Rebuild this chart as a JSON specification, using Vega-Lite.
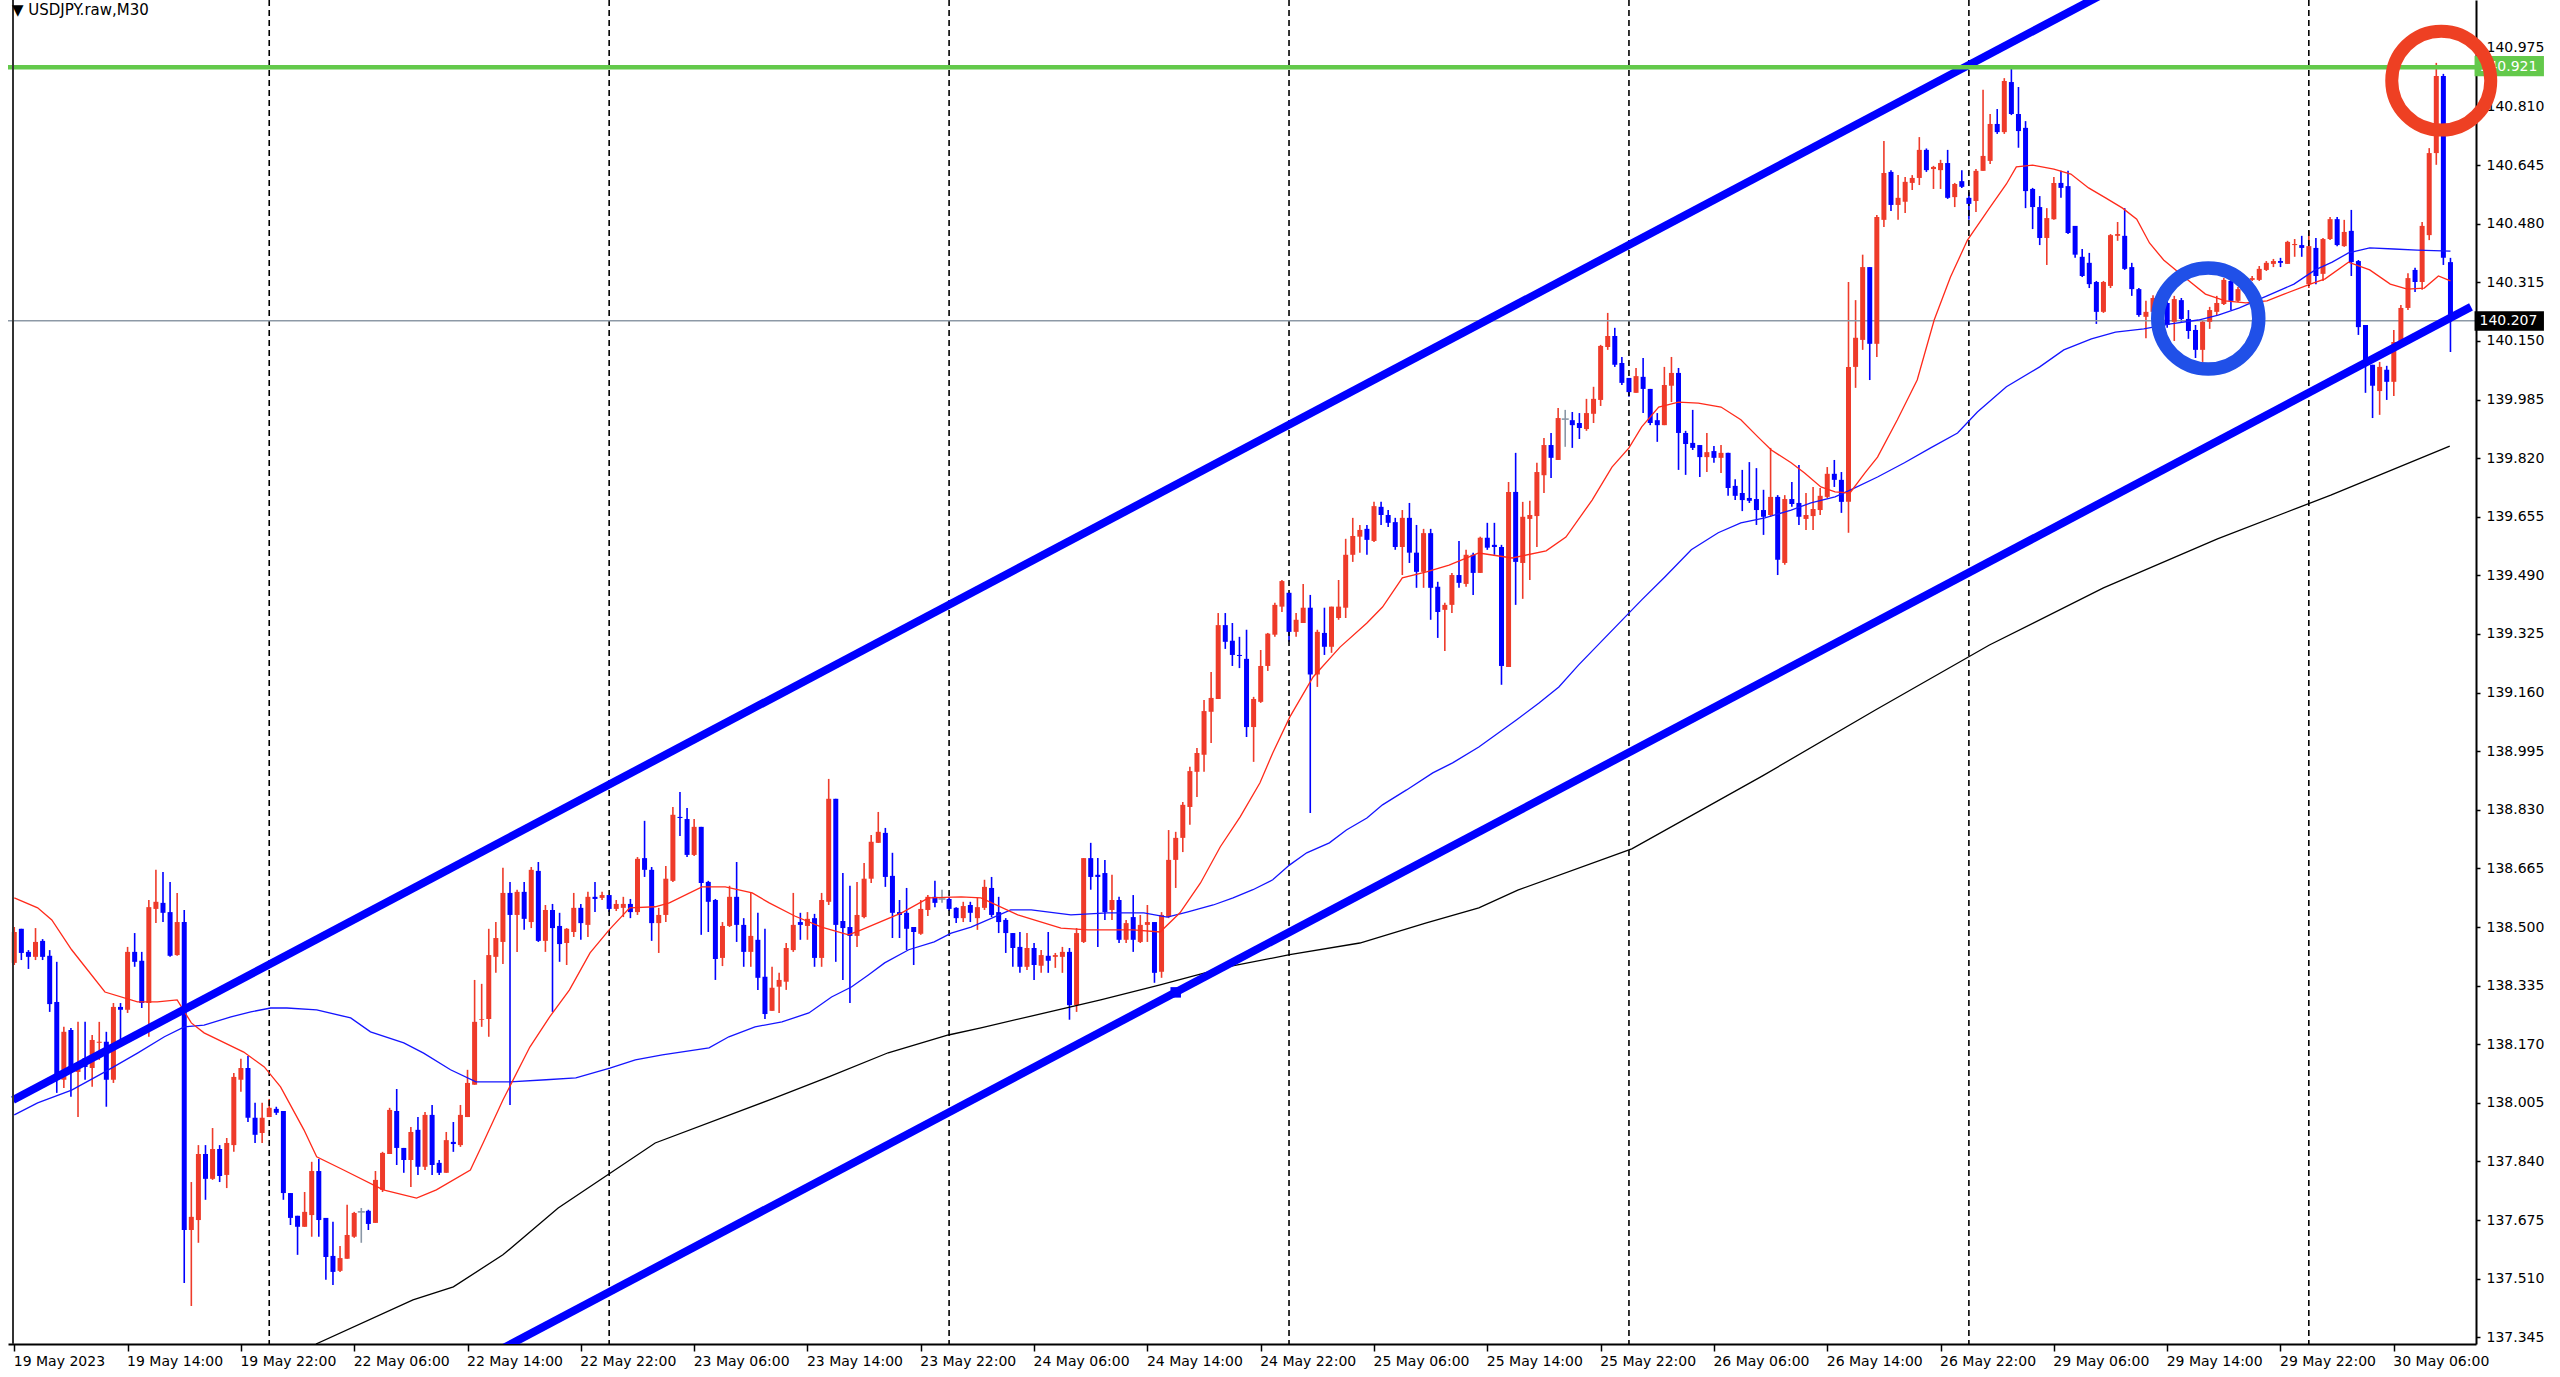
{
  "$schema": "https://vega.github.io/schema/vega-lite/v6.json",
  "width": 2468,
  "height": 1344,
  "autosize": "none",
  "padding": {"left": 8, "top": 0, "right": 84, "bottom": 33},
  "background": "white",
  "title": {
    "text": "▼ USDJPY.raw,M30",
    "anchor": "start",
    "frame": "group",
    "orient": "top",
    "offset": -18,
    "dy": 13,
    "baseline": "alphabetic",
    "dx": 4,
    "font": "DejaVu Sans",
    "fontSize": 15,
    "fontWeight": "normal",
    "color": "#000000"
  },
  "config": {
    "view": {"stroke": null},
    "axis": {"labelFont": "DejaVu Sans", "labelFontSize": 14, "labelColor": "#000000", "grid": false, "title": null}
  },
  "datasets": {
    "candles": [
      {"i":0,"o":138.399,"h":138.500,"l":138.393,"c":138.486},
      {"i":1,"o":138.495,"h":138.495,"l":138.407,"c":138.427},
      {"i":2,"o":138.430,"h":138.435,"l":138.382,"c":138.416},
      {"i":3,"o":138.416,"h":138.497,"l":138.407,"c":138.458},
      {"i":4,"o":138.461,"h":138.466,"l":138.407,"c":138.416},
      {"i":5,"o":138.419,"h":138.435,"l":138.261,"c":138.283},
      {"i":6,"o":138.289,"h":138.402,"l":138.033,"c":138.070},
      {"i":7,"o":138.070,"h":138.219,"l":138.047,"c":138.205},
      {"i":8,"o":138.210,"h":138.216,"l":138.022,"c":138.098},
      {"i":9,"o":138.092,"h":138.233,"l":137.965,"c":138.109},
      {"i":10,"o":138.131,"h":138.233,"l":138.070,"c":138.106},
      {"i":11,"o":138.103,"h":138.196,"l":138.050,"c":138.182},
      {"i":12,"o":138.174,"h":138.233,"l":138.126,"c":138.177},
      {"i":13,"o":138.177,"h":138.205,"l":137.994,"c":138.070},
      {"i":14,"o":138.070,"h":138.286,"l":138.061,"c":138.275},
      {"i":15,"o":138.275,"h":138.286,"l":138.182,"c":138.267},
      {"i":16,"o":138.267,"h":138.444,"l":138.258,"c":138.430},
      {"i":17,"o":138.430,"h":138.483,"l":138.388,"c":138.402},
      {"i":18,"o":138.405,"h":138.430,"l":138.272,"c":138.286},
      {"i":19,"o":138.286,"h":138.576,"l":138.191,"c":138.556},
      {"i":20,"o":138.551,"h":138.661,"l":138.511,"c":138.571},
      {"i":21,"o":138.568,"h":138.655,"l":138.514,"c":138.540},
      {"i":22,"o":138.542,"h":138.627,"l":138.416,"c":138.419},
      {"i":23,"o":138.421,"h":138.596,"l":138.419,"c":138.514},
      {"i":24,"o":138.514,"h":138.548,"l":137.498,"c":137.647},
      {"i":25,"o":137.647,"h":137.782,"l":137.433,"c":137.684},
      {"i":26,"o":137.675,"h":137.886,"l":137.611,"c":137.861},
      {"i":27,"o":137.861,"h":137.886,"l":137.732,"c":137.791},
      {"i":28,"o":137.791,"h":137.934,"l":137.788,"c":137.875},
      {"i":29,"o":137.875,"h":137.886,"l":137.782,"c":137.799},
      {"i":30,"o":137.802,"h":137.906,"l":137.765,"c":137.892},
      {"i":31,"o":137.886,"h":138.089,"l":137.867,"c":138.078},
      {"i":32,"o":138.070,"h":138.129,"l":138.036,"c":138.103},
      {"i":33,"o":138.103,"h":138.137,"l":137.951,"c":137.963},
      {"i":34,"o":137.963,"h":138.005,"l":137.892,"c":137.915},
      {"i":35,"o":137.920,"h":138.005,"l":137.892,"c":137.963},
      {"i":36,"o":137.965,"h":138.016,"l":137.965,"c":137.991},
      {"i":37,"o":137.988,"h":137.994,"l":137.971,"c":137.977},
      {"i":38,"o":137.982,"h":137.982,"l":137.732,"c":137.751},
      {"i":39,"o":137.751,"h":137.751,"l":137.661,"c":137.681},
      {"i":40,"o":137.687,"h":137.687,"l":137.577,"c":137.656},
      {"i":41,"o":137.656,"h":137.754,"l":137.656,"c":137.698},
      {"i":42,"o":137.689,"h":137.839,"l":137.628,"c":137.813},
      {"i":43,"o":137.813,"h":137.847,"l":137.628,"c":137.675},
      {"i":44,"o":137.681,"h":137.681,"l":137.507,"c":137.571},
      {"i":45,"o":137.574,"h":137.670,"l":137.492,"c":137.529},
      {"i":46,"o":137.532,"h":137.602,"l":137.529,"c":137.568},
      {"i":47,"o":137.566,"h":137.718,"l":137.566,"c":137.633},
      {"i":48,"o":137.628,"h":137.698,"l":137.625,"c":137.695},
      {"i":49,"o":137.698,"h":137.709,"l":137.611,"c":137.698},
      {"i":50,"o":137.701,"h":137.704,"l":137.647,"c":137.664},
      {"i":51,"o":137.667,"h":137.813,"l":137.667,"c":137.788},
      {"i":52,"o":137.760,"h":137.867,"l":137.754,"c":137.864},
      {"i":53,"o":137.861,"h":137.991,"l":137.861,"c":137.985},
      {"i":54,"o":137.982,"h":138.044,"l":137.830,"c":137.878},
      {"i":55,"o":137.878,"h":137.878,"l":137.808,"c":137.844},
      {"i":56,"o":137.844,"h":137.937,"l":137.768,"c":137.923},
      {"i":57,"o":137.929,"h":137.965,"l":137.802,"c":137.825},
      {"i":58,"o":137.825,"h":137.979,"l":137.816,"c":137.971},
      {"i":59,"o":137.971,"h":137.999,"l":137.802,"c":137.830},
      {"i":60,"o":137.836,"h":137.844,"l":137.802,"c":137.808},
      {"i":61,"o":137.808,"h":137.923,"l":137.808,"c":137.900},
      {"i":62,"o":137.895,"h":137.951,"l":137.867,"c":137.889},
      {"i":63,"o":137.886,"h":137.999,"l":137.881,"c":137.971},
      {"i":64,"o":137.965,"h":138.098,"l":137.965,"c":138.061},
      {"i":65,"o":138.056,"h":138.351,"l":138.056,"c":138.233},
      {"i":66,"o":138.239,"h":138.340,"l":138.219,"c":138.241},
      {"i":67,"o":138.241,"h":138.495,"l":138.191,"c":138.421},
      {"i":68,"o":138.416,"h":138.514,"l":138.371,"c":138.469},
      {"i":69,"o":138.458,"h":138.667,"l":138.396,"c":138.596},
      {"i":70,"o":138.596,"h":138.627,"l":137.999,"c":138.534},
      {"i":71,"o":138.534,"h":138.605,"l":138.430,"c":138.599},
      {"i":72,"o":138.599,"h":138.627,"l":138.492,"c":138.523},
      {"i":73,"o":138.514,"h":138.669,"l":138.497,"c":138.661},
      {"i":74,"o":138.658,"h":138.683,"l":138.458,"c":138.461},
      {"i":75,"o":138.461,"h":138.562,"l":138.430,"c":138.548},
      {"i":76,"o":138.548,"h":138.565,"l":138.261,"c":138.497},
      {"i":77,"o":138.503,"h":138.540,"l":138.402,"c":138.452},
      {"i":78,"o":138.455,"h":138.497,"l":138.393,"c":138.495},
      {"i":79,"o":138.486,"h":138.596,"l":138.472,"c":138.554},
      {"i":80,"o":138.554,"h":138.565,"l":138.464,"c":138.511},
      {"i":81,"o":138.506,"h":138.599,"l":138.472,"c":138.585},
      {"i":82,"o":138.585,"h":138.627,"l":138.542,"c":138.579},
      {"i":83,"o":138.582,"h":138.599,"l":138.576,"c":138.590},
      {"i":84,"o":138.590,"h":138.590,"l":138.542,"c":138.551},
      {"i":85,"o":138.551,"h":138.576,"l":138.545,"c":138.565},
      {"i":86,"o":138.554,"h":138.585,"l":138.528,"c":138.565},
      {"i":87,"o":138.565,"h":138.579,"l":138.525,"c":138.542},
      {"i":88,"o":138.542,"h":138.697,"l":138.534,"c":138.692},
      {"i":89,"o":138.694,"h":138.799,"l":138.641,"c":138.661},
      {"i":90,"o":138.661,"h":138.669,"l":138.461,"c":138.511},
      {"i":91,"o":138.511,"h":138.554,"l":138.427,"c":138.534},
      {"i":92,"o":138.534,"h":138.672,"l":138.514,"c":138.636},
      {"i":93,"o":138.630,"h":138.838,"l":138.627,"c":138.816},
      {"i":94,"o":138.810,"h":138.880,"l":138.756,"c":138.807},
      {"i":95,"o":138.804,"h":138.835,"l":138.697,"c":138.703},
      {"i":96,"o":138.703,"h":138.804,"l":138.700,"c":138.782},
      {"i":97,"o":138.782,"h":138.782,"l":138.478,"c":138.624},
      {"i":98,"o":138.627,"h":138.630,"l":138.486,"c":138.571},
      {"i":99,"o":138.576,"h":138.579,"l":138.351,"c":138.410},
      {"i":100,"o":138.413,"h":138.514,"l":138.390,"c":138.503},
      {"i":101,"o":138.503,"h":138.616,"l":138.500,"c":138.585},
      {"i":102,"o":138.585,"h":138.683,"l":138.458,"c":138.506},
      {"i":103,"o":138.506,"h":138.525,"l":138.388,"c":138.430},
      {"i":104,"o":138.430,"h":138.596,"l":138.388,"c":138.475},
      {"i":105,"o":138.464,"h":138.540,"l":138.323,"c":138.357},
      {"i":106,"o":138.360,"h":138.495,"l":138.241,"c":138.255},
      {"i":107,"o":138.264,"h":138.388,"l":138.264,"c":138.329},
      {"i":108,"o":138.332,"h":138.371,"l":138.258,"c":138.351},
      {"i":109,"o":138.346,"h":138.455,"l":138.323,"c":138.441},
      {"i":110,"o":138.435,"h":138.596,"l":138.430,"c":138.506},
      {"i":111,"o":138.514,"h":138.540,"l":138.464,"c":138.506},
      {"i":112,"o":138.503,"h":138.542,"l":138.464,"c":138.523},
      {"i":113,"o":138.525,"h":138.537,"l":138.388,"c":138.413},
      {"i":114,"o":138.413,"h":138.596,"l":138.388,"c":138.576},
      {"i":115,"o":138.571,"h":138.917,"l":138.562,"c":138.861},
      {"i":116,"o":138.861,"h":138.861,"l":138.402,"c":138.506},
      {"i":117,"o":138.517,"h":138.652,"l":138.351,"c":138.497},
      {"i":118,"o":138.500,"h":138.616,"l":138.286,"c":138.475},
      {"i":119,"o":138.475,"h":138.627,"l":138.444,"c":138.534},
      {"i":120,"o":138.528,"h":138.680,"l":138.525,"c":138.636},
      {"i":121,"o":138.636,"h":138.759,"l":138.624,"c":138.740},
      {"i":122,"o":138.737,"h":138.824,"l":138.737,"c":138.768},
      {"i":123,"o":138.765,"h":138.779,"l":138.613,"c":138.641},
      {"i":124,"o":138.644,"h":138.709,"l":138.469,"c":138.540},
      {"i":125,"o":138.542,"h":138.576,"l":138.469,"c":138.534},
      {"i":126,"o":138.540,"h":138.610,"l":138.435,"c":138.495},
      {"i":127,"o":138.500,"h":138.500,"l":138.393,"c":138.486},
      {"i":128,"o":138.481,"h":138.576,"l":138.478,"c":138.551},
      {"i":129,"o":138.548,"h":138.590,"l":138.531,"c":138.585},
      {"i":130,"o":138.585,"h":138.630,"l":138.556,"c":138.568},
      {"i":131,"o":138.579,"h":138.605,"l":138.568,"c":138.579},
      {"i":132,"o":138.579,"h":138.585,"l":138.545,"c":138.551},
      {"i":133,"o":138.554,"h":138.556,"l":138.511,"c":138.525},
      {"i":134,"o":138.525,"h":138.571,"l":138.514,"c":138.559},
      {"i":135,"o":138.562,"h":138.571,"l":138.514,"c":138.540},
      {"i":136,"o":138.525,"h":138.582,"l":138.492,"c":138.556},
      {"i":137,"o":138.554,"h":138.633,"l":138.548,"c":138.613},
      {"i":138,"o":138.610,"h":138.641,"l":138.528,"c":138.534},
      {"i":139,"o":138.542,"h":138.585,"l":138.483,"c":138.514},
      {"i":140,"o":138.520,"h":138.525,"l":138.427,"c":138.483},
      {"i":141,"o":138.483,"h":138.483,"l":138.388,"c":138.441},
      {"i":142,"o":138.444,"h":138.486,"l":138.371,"c":138.388},
      {"i":143,"o":138.388,"h":138.483,"l":138.379,"c":138.441},
      {"i":144,"o":138.441,"h":138.455,"l":138.351,"c":138.393},
      {"i":145,"o":138.391,"h":138.435,"l":138.371,"c":138.421},
      {"i":146,"o":138.419,"h":138.486,"l":138.371,"c":138.405},
      {"i":147,"o":138.416,"h":138.427,"l":138.385,"c":138.421},
      {"i":148,"o":138.416,"h":138.444,"l":138.371,"c":138.430},
      {"i":149,"o":138.430,"h":138.441,"l":138.239,"c":138.280},
      {"i":150,"o":138.280,"h":138.497,"l":138.261,"c":138.483},
      {"i":151,"o":138.458,"h":138.694,"l":138.455,"c":138.694},
      {"i":152,"o":138.694,"h":138.737,"l":138.605,"c":138.641},
      {"i":153,"o":138.647,"h":138.694,"l":138.444,"c":138.641},
      {"i":154,"o":138.652,"h":138.689,"l":138.520,"c":138.542},
      {"i":155,"o":138.548,"h":138.647,"l":138.520,"c":138.576},
      {"i":156,"o":138.576,"h":138.585,"l":138.455,"c":138.464},
      {"i":157,"o":138.464,"h":138.520,"l":138.455,"c":138.511},
      {"i":158,"o":138.528,"h":138.590,"l":138.430,"c":138.464},
      {"i":159,"o":138.458,"h":138.534,"l":138.455,"c":138.506},
      {"i":160,"o":138.506,"h":138.562,"l":138.458,"c":138.514},
      {"i":161,"o":138.514,"h":138.514,"l":138.343,"c":138.371},
      {"i":162,"o":138.374,"h":138.542,"l":138.357,"c":138.534},
      {"i":163,"o":138.528,"h":138.773,"l":138.525,"c":138.689},
      {"i":164,"o":138.689,"h":138.768,"l":138.610,"c":138.751},
      {"i":165,"o":138.751,"h":138.852,"l":138.711,"c":138.844},
      {"i":166,"o":138.838,"h":138.951,"l":138.788,"c":138.939},
      {"i":167,"o":138.937,"h":139.004,"l":138.866,"c":138.990},
      {"i":168,"o":138.985,"h":139.139,"l":138.937,"c":139.108},
      {"i":169,"o":139.106,"h":139.218,"l":139.018,"c":139.145},
      {"i":170,"o":139.142,"h":139.384,"l":139.142,"c":139.350},
      {"i":171,"o":139.350,"h":139.384,"l":139.283,"c":139.303},
      {"i":172,"o":139.306,"h":139.356,"l":139.235,"c":139.266},
      {"i":173,"o":139.266,"h":139.317,"l":139.229,"c":139.263},
      {"i":174,"o":139.255,"h":139.337,"l":139.035,"c":139.063},
      {"i":175,"o":139.063,"h":139.148,"l":138.965,"c":139.142},
      {"i":176,"o":139.134,"h":139.280,"l":139.131,"c":139.235},
      {"i":177,"o":139.235,"h":139.328,"l":139.221,"c":139.326},
      {"i":178,"o":139.323,"h":139.413,"l":139.317,"c":139.407},
      {"i":179,"o":139.402,"h":139.477,"l":139.387,"c":139.474},
      {"i":180,"o":139.441,"h":139.441,"l":139.303,"c":139.331},
      {"i":181,"o":139.331,"h":139.384,"l":139.317,"c":139.365},
      {"i":182,"o":139.356,"h":139.466,"l":139.356,"c":139.399},
      {"i":183,"o":139.399,"h":139.435,"l":138.821,"c":139.211},
      {"i":184,"o":139.211,"h":139.337,"l":139.176,"c":139.331},
      {"i":185,"o":139.328,"h":139.399,"l":139.266,"c":139.289},
      {"i":186,"o":139.289,"h":139.402,"l":139.272,"c":139.402},
      {"i":187,"o":139.370,"h":139.477,"l":139.365,"c":139.402},
      {"i":188,"o":139.399,"h":139.593,"l":139.370,"c":139.548},
      {"i":189,"o":139.548,"h":139.652,"l":139.528,"c":139.601},
      {"i":190,"o":139.599,"h":139.632,"l":139.554,"c":139.618},
      {"i":191,"o":139.621,"h":139.632,"l":139.548,"c":139.590},
      {"i":192,"o":139.587,"h":139.697,"l":139.584,"c":139.685},
      {"i":193,"o":139.683,"h":139.697,"l":139.632,"c":139.660},
      {"i":194,"o":139.660,"h":139.674,"l":139.626,"c":139.638},
      {"i":195,"o":139.640,"h":139.652,"l":139.562,"c":139.570},
      {"i":196,"o":139.570,"h":139.674,"l":139.491,"c":139.652},
      {"i":197,"o":139.652,"h":139.694,"l":139.525,"c":139.554},
      {"i":198,"o":139.554,"h":139.632,"l":139.455,"c":139.500},
      {"i":199,"o":139.500,"h":139.621,"l":139.455,"c":139.609},
      {"i":200,"o":139.609,"h":139.621,"l":139.365,"c":139.455},
      {"i":201,"o":139.458,"h":139.472,"l":139.314,"c":139.387},
      {"i":202,"o":139.393,"h":139.413,"l":139.277,"c":139.407},
      {"i":203,"o":139.407,"h":139.497,"l":139.384,"c":139.491},
      {"i":204,"o":139.491,"h":139.587,"l":139.455,"c":139.469},
      {"i":205,"o":139.466,"h":139.562,"l":139.458,"c":139.548},
      {"i":206,"o":139.548,"h":139.554,"l":139.435,"c":139.497},
      {"i":207,"o":139.497,"h":139.599,"l":139.497,"c":139.596},
      {"i":208,"o":139.596,"h":139.638,"l":139.562,"c":139.568},
      {"i":209,"o":139.576,"h":139.638,"l":139.548,"c":139.570},
      {"i":210,"o":139.570,"h":139.576,"l":139.182,"c":139.235},
      {"i":211,"o":139.232,"h":139.753,"l":139.232,"c":139.725},
      {"i":212,"o":139.725,"h":139.835,"l":139.407,"c":139.528},
      {"i":213,"o":139.525,"h":139.697,"l":139.424,"c":139.655},
      {"i":214,"o":139.649,"h":139.700,"l":139.477,"c":139.660},
      {"i":215,"o":139.657,"h":139.807,"l":139.570,"c":139.781},
      {"i":216,"o":139.772,"h":139.877,"l":139.722,"c":139.857},
      {"i":217,"o":139.857,"h":139.891,"l":139.764,"c":139.821},
      {"i":218,"o":139.815,"h":139.961,"l":139.815,"c":139.933},
      {"i":219,"o":139.930,"h":139.956,"l":139.852,"c":139.930},
      {"i":220,"o":139.927,"h":139.950,"l":139.849,"c":139.913},
      {"i":221,"o":139.919,"h":139.947,"l":139.874,"c":139.905},
      {"i":222,"o":139.902,"h":139.987,"l":139.897,"c":139.947},
      {"i":223,"o":139.945,"h":140.021,"l":139.919,"c":139.987},
      {"i":224,"o":139.984,"h":140.139,"l":139.967,"c":140.136},
      {"i":225,"o":140.133,"h":140.229,"l":140.125,"c":140.164},
      {"i":226,"o":140.164,"h":140.187,"l":140.077,"c":140.083},
      {"i":227,"o":140.088,"h":140.105,"l":140.026,"c":140.032},
      {"i":228,"o":140.046,"h":140.046,"l":139.993,"c":140.006},
      {"i":229,"o":140.004,"h":140.074,"l":140.004,"c":140.051},
      {"i":230,"o":140.049,"h":140.102,"l":139.947,"c":140.015},
      {"i":231,"o":140.015,"h":140.015,"l":139.913,"c":139.919},
      {"i":232,"o":139.927,"h":139.947,"l":139.866,"c":139.913},
      {"i":233,"o":139.913,"h":140.077,"l":139.913,"c":140.026},
      {"i":234,"o":140.024,"h":140.105,"l":139.978,"c":140.060},
      {"i":235,"o":140.060,"h":140.074,"l":139.787,"c":139.891},
      {"i":236,"o":139.891,"h":139.897,"l":139.773,"c":139.860},
      {"i":237,"o":139.863,"h":139.956,"l":139.843,"c":139.849},
      {"i":238,"o":139.857,"h":139.857,"l":139.767,"c":139.823},
      {"i":239,"o":139.823,"h":139.891,"l":139.781,"c":139.837},
      {"i":240,"o":139.840,"h":139.854,"l":139.807,"c":139.821},
      {"i":241,"o":139.821,"h":139.857,"l":139.778,"c":139.835},
      {"i":242,"o":139.835,"h":139.835,"l":139.714,"c":139.736},
      {"i":243,"o":139.742,"h":139.761,"l":139.702,"c":139.714},
      {"i":244,"o":139.722,"h":139.787,"l":139.671,"c":139.702},
      {"i":245,"o":139.708,"h":139.809,"l":139.694,"c":139.700},
      {"i":246,"o":139.705,"h":139.792,"l":139.632,"c":139.674},
      {"i":247,"o":139.674,"h":139.731,"l":139.604,"c":139.655},
      {"i":248,"o":139.660,"h":139.849,"l":139.655,"c":139.711},
      {"i":249,"o":139.711,"h":139.716,"l":139.491,"c":139.534},
      {"i":250,"o":139.525,"h":139.716,"l":139.520,"c":139.705},
      {"i":251,"o":139.705,"h":139.753,"l":139.683,"c":139.691},
      {"i":252,"o":139.694,"h":139.801,"l":139.632,"c":139.655},
      {"i":253,"o":139.649,"h":139.722,"l":139.618,"c":139.660},
      {"i":254,"o":139.657,"h":139.739,"l":139.618,"c":139.677},
      {"i":255,"o":139.674,"h":139.736,"l":139.660,"c":139.714},
      {"i":256,"o":139.711,"h":139.795,"l":139.708,"c":139.776},
      {"i":257,"o":139.776,"h":139.815,"l":139.739,"c":139.759},
      {"i":258,"o":139.759,"h":139.781,"l":139.666,"c":139.697},
      {"i":259,"o":139.697,"h":140.316,"l":139.610,"c":140.077},
      {"i":260,"o":140.077,"h":140.265,"l":140.018,"c":140.159},
      {"i":261,"o":140.153,"h":140.393,"l":140.125,"c":140.358},
      {"i":262,"o":140.358,"h":140.358,"l":140.040,"c":140.142},
      {"i":263,"o":140.142,"h":140.505,"l":140.105,"c":140.499},
      {"i":264,"o":140.491,"h":140.713,"l":140.471,"c":140.623},
      {"i":265,"o":140.626,"h":140.631,"l":140.516,"c":140.533},
      {"i":266,"o":140.533,"h":140.617,"l":140.491,"c":140.553},
      {"i":267,"o":140.542,"h":140.612,"l":140.510,"c":140.598},
      {"i":268,"o":140.595,"h":140.617,"l":140.575,"c":140.609},
      {"i":269,"o":140.609,"h":140.724,"l":140.589,"c":140.688},
      {"i":270,"o":140.688,"h":140.692,"l":140.626,"c":140.631},
      {"i":271,"o":140.634,"h":140.643,"l":140.578,"c":140.640},
      {"i":272,"o":140.631,"h":140.660,"l":140.578,"c":140.651},
      {"i":273,"o":140.651,"h":140.688,"l":140.550,"c":140.553},
      {"i":274,"o":140.555,"h":140.595,"l":140.527,"c":140.592},
      {"i":275,"o":140.600,"h":140.631,"l":140.581,"c":140.584},
      {"i":276,"o":140.553,"h":140.569,"l":140.491,"c":140.536},
      {"i":277,"o":140.544,"h":140.634,"l":140.513,"c":140.629},
      {"i":278,"o":140.629,"h":140.857,"l":140.629,"c":140.671},
      {"i":279,"o":140.657,"h":140.789,"l":140.648,"c":140.761},
      {"i":280,"o":140.761,"h":140.803,"l":140.733,"c":140.738},
      {"i":281,"o":140.738,"h":140.890,"l":140.733,"c":140.882},
      {"i":282,"o":140.879,"h":140.921,"l":140.786,"c":140.789},
      {"i":283,"o":140.789,"h":140.865,"l":140.694,"c":140.741},
      {"i":284,"o":140.750,"h":140.769,"l":140.524,"c":140.572},
      {"i":285,"o":140.578,"h":140.581,"l":140.465,"c":140.527},
      {"i":286,"o":140.527,"h":140.558,"l":140.420,"c":140.440},
      {"i":287,"o":140.440,"h":140.524,"l":140.364,"c":140.496},
      {"i":288,"o":140.493,"h":140.612,"l":140.491,"c":140.595},
      {"i":289,"o":140.595,"h":140.629,"l":140.553,"c":140.581},
      {"i":290,"o":140.586,"h":140.629,"l":140.451,"c":140.454},
      {"i":291,"o":140.474,"h":140.474,"l":140.384,"c":140.393},
      {"i":292,"o":140.387,"h":140.409,"l":140.330,"c":140.333},
      {"i":293,"o":140.370,"h":140.398,"l":140.299,"c":140.310},
      {"i":294,"o":140.316,"h":140.319,"l":140.198,"c":140.232},
      {"i":295,"o":140.232,"h":140.319,"l":140.229,"c":140.316},
      {"i":296,"o":140.305,"h":140.451,"l":140.299,"c":140.448},
      {"i":297,"o":140.446,"h":140.485,"l":140.432,"c":140.451},
      {"i":298,"o":140.446,"h":140.524,"l":140.350,"c":140.353},
      {"i":299,"o":140.358,"h":140.370,"l":140.277,"c":140.296},
      {"i":300,"o":140.296,"h":140.299,"l":140.218,"c":140.223},
      {"i":301,"o":140.218,"h":140.263,"l":140.158,"c":140.232},
      {"i":302,"o":140.232,"h":140.279,"l":140.229,"c":140.271},
      {"i":303,"o":140.232,"h":140.265,"l":140.218,"c":140.254},
      {"i":304,"o":140.257,"h":140.265,"l":140.187,"c":140.195},
      {"i":305,"o":140.204,"h":140.277,"l":140.150,"c":140.268},
      {"i":306,"o":140.265,"h":140.271,"l":140.204,"c":140.212},
      {"i":307,"o":140.212,"h":140.237,"l":140.156,"c":140.178},
      {"i":308,"o":140.181,"h":140.195,"l":140.102,"c":140.125},
      {"i":309,"o":140.125,"h":140.209,"l":140.091,"c":140.204},
      {"i":310,"o":140.204,"h":140.246,"l":140.184,"c":140.237},
      {"i":311,"o":140.232,"h":140.277,"l":140.223,"c":140.257},
      {"i":312,"o":140.254,"h":140.327,"l":140.251,"c":140.322},
      {"i":313,"o":140.319,"h":140.322,"l":140.237,"c":140.263},
      {"i":314,"o":140.263,"h":140.302,"l":140.260,"c":140.296},
      {"i":315,"o":140.291,"h":140.333,"l":140.282,"c":140.322},
      {"i":316,"o":140.322,"h":140.333,"l":140.319,"c":140.327},
      {"i":317,"o":140.322,"h":140.361,"l":140.319,"c":140.353},
      {"i":318,"o":140.350,"h":140.375,"l":140.347,"c":140.370},
      {"i":319,"o":140.367,"h":140.381,"l":140.358,"c":140.375},
      {"i":320,"o":140.375,"h":140.384,"l":140.358,"c":140.370},
      {"i":321,"o":140.367,"h":140.432,"l":140.367,"c":140.429},
      {"i":322,"o":140.420,"h":140.437,"l":140.387,"c":140.423},
      {"i":323,"o":140.420,"h":140.446,"l":140.387,"c":140.412},
      {"i":324,"o":140.310,"h":140.460,"l":140.299,"c":140.417},
      {"i":325,"o":140.412,"h":140.440,"l":140.310,"c":140.333},
      {"i":326,"o":140.339,"h":140.440,"l":140.319,"c":140.437},
      {"i":327,"o":140.437,"h":140.499,"l":140.434,"c":140.493},
      {"i":328,"o":140.493,"h":140.499,"l":140.417,"c":140.420},
      {"i":329,"o":140.417,"h":140.491,"l":140.415,"c":140.457},
      {"i":330,"o":140.460,"h":140.519,"l":140.333,"c":140.372},
      {"i":331,"o":140.375,"h":140.378,"l":140.167,"c":140.189},
      {"i":332,"o":140.195,"h":140.195,"l":140.004,"c":140.083},
      {"i":333,"o":140.083,"h":140.083,"l":139.933,"c":140.024},
      {"i":334,"o":140.009,"h":140.091,"l":139.942,"c":140.077},
      {"i":335,"o":140.069,"h":140.080,"l":139.984,"c":140.035},
      {"i":336,"o":140.035,"h":140.181,"l":139.995,"c":140.147},
      {"i":337,"o":140.147,"h":140.251,"l":140.139,"c":140.243},
      {"i":338,"o":140.243,"h":140.341,"l":140.237,"c":140.327},
      {"i":339,"o":140.350,"h":140.356,"l":140.288,"c":140.316},
      {"i":340,"o":140.316,"h":140.485,"l":140.294,"c":140.474},
      {"i":341,"o":140.448,"h":140.693,"l":140.434,"c":140.679},
      {"i":342,"o":140.679,"h":140.933,"l":140.646,"c":140.896},
      {"i":343,"o":140.896,"h":140.902,"l":140.364,"c":140.384},
      {"i":344,"o":140.372,"h":140.384,"l":140.119,"c":140.207}
    ],
    "maFast": [
      {"i":0,"p":138.582},{"i":3.3,"p":138.554},{"i":5.3,"p":138.520},{"i":8.1,"p":138.436},{"i":12.8,"p":138.317},
      {"i":17.4,"p":138.289},{"i":20.2,"p":138.289},{"i":23,"p":138.295},{"i":25,"p":138.230},{"i":26.8,"p":138.202},
      {"i":32.4,"p":138.148},{"i":35.3,"p":138.106},{"i":37.6,"p":138.050},{"i":40.9,"p":137.929},{"i":42.7,"p":137.853},
      {"i":46.5,"p":137.816},{"i":52.1,"p":137.760},{"i":56.8,"p":137.737},{"i":59.6,"p":137.760},{"i":64.4,"p":137.816},
      {"i":66.2,"p":137.892},{"i":69,"p":138.013},{"i":72.8,"p":138.162},{"i":75.6,"p":138.247},{"i":78.4,"p":138.323},
      {"i":81.3,"p":138.427},{"i":84,"p":138.492},{"i":86.9,"p":138.554},{"i":90.5,"p":138.557},{"i":92.5,"p":138.568},
      {"i":97.1,"p":138.613},{"i":100.4,"p":138.613},{"i":104.2,"p":138.596},{"i":106.6,"p":138.568},{"i":110.2,"p":138.531},
      {"i":114,"p":138.500},{"i":117.8,"p":138.478},{"i":119.6,"p":138.492},{"i":125.3,"p":138.540},{"i":129.1,"p":138.582},
      {"i":133.7,"p":138.585},{"i":136.5,"p":138.582},{"i":141.7,"p":138.534},{"i":147.8,"p":138.497},{"i":151.6,"p":138.492},
      {"i":158,"p":138.492},{"i":161.8,"p":138.486},{"i":164.6,"p":138.540},{"i":167.5,"p":138.624},{"i":170.3,"p":138.726},
      {"i":173.1,"p":138.810},{"i":175.9,"p":138.906},{"i":177.7,"p":138.990},{"i":180.1,"p":139.091},{"i":183.4,"p":139.204},
      {"i":187.2,"p":139.288},{"i":191,"p":139.356},{"i":193.2,"p":139.401},{"i":196,"p":139.483},{"i":199.4,"p":139.500},
      {"i":202.6,"p":139.519},{"i":206.8,"p":139.553},{"i":211.5,"p":139.539},{"i":216.3,"p":139.559},{"i":219.1,"p":139.598},
      {"i":222.8,"p":139.702},{"i":225.6,"p":139.795},{"i":228,"p":139.849},{"i":229.8,"p":139.908},{"i":232.2,"p":139.964},
      {"i":235,"p":139.978},{"i":237.8,"p":139.975},{"i":241,"p":139.964},{"i":243.8,"p":139.928},{"i":246.2,"p":139.880},
      {"i":248.1,"p":139.843},{"i":250.9,"p":139.807},{"i":252.8,"p":139.778},{"i":255.1,"p":139.739},{"i":257.1,"p":139.725},
      {"i":259.2,"p":139.722},{"i":261.3,"p":139.778},{"i":263.1,"p":139.823},{"i":265.9,"p":139.928},{"i":268.7,"p":140.040},
      {"i":271.1,"p":140.209},{"i":273.4,"p":140.330},{"i":275.8,"p":140.434},{"i":278.9,"p":140.524},{"i":281.3,"p":140.592},
      {"i":282.7,"p":140.640},{"i":285,"p":140.645},{"i":288,"p":140.634},{"i":290.4,"p":140.620},{"i":292.9,"p":140.581},
      {"i":295.3,"p":140.553},{"i":297.7,"p":140.524},{"i":299.7,"p":140.493},{"i":301.5,"p":140.426},{"i":303.5,"p":140.378},
      {"i":306.4,"p":140.330},{"i":309.4,"p":140.282},{"i":312.2,"p":140.263},{"i":315.1,"p":140.257},{"i":318.1,"p":140.263},
      {"i":320.5,"p":140.282},{"i":324.2,"p":140.310},{"i":326.3,"p":140.325},{"i":329.6,"p":140.372},{"i":332.6,"p":140.350},
      {"i":335.5,"p":140.310},{"i":337.9,"p":140.296},{"i":340.3,"p":140.299},{"i":342.3,"p":140.333},{"i":344,"p":140.319}
    ],
    "maMid": [
      {"i":0,"p":137.971},{"i":3.3,"p":138.005},{"i":8.1,"p":138.041},{"i":12.8,"p":138.092},{"i":17.4,"p":138.145},
      {"i":21.2,"p":138.191},{"i":24,"p":138.219},{"i":26.8,"p":138.224},{"i":30.6,"p":138.247},{"i":33.4,"p":138.261},
      {"i":36.2,"p":138.272},{"i":38.5,"p":138.272},{"i":42.7,"p":138.267},{"i":47.5,"p":138.244},{"i":50.3,"p":138.205},
      {"i":55,"p":138.174},{"i":57.8,"p":138.145},{"i":61.6,"p":138.098},{"i":65.2,"p":138.064},{"i":70,"p":138.064},
      {"i":75.1,"p":138.070},{"i":79.3,"p":138.075},{"i":84.1,"p":138.103},{"i":87.7,"p":138.126},{"i":91.5,"p":138.140},
      {"i":98.1,"p":138.160},{"i":100.9,"p":138.191},{"i":104.6,"p":138.219},{"i":108.4,"p":138.233},{"i":112.2,"p":138.258},
      {"i":115.4,"p":138.303},{"i":118.2,"p":138.331},{"i":120.6,"p":138.365},{"i":122.9,"p":138.399},{"i":126.3,"p":138.436},
      {"i":129.9,"p":138.458},{"i":132.3,"p":138.483},{"i":135.1,"p":138.500},{"i":140.7,"p":138.548},{"i":143.6,"p":138.548},
      {"i":149.2,"p":138.534},{"i":154.4,"p":138.540},{"i":159.5,"p":138.540},{"i":162.8,"p":138.528},{"i":165.6,"p":138.542},
      {"i":169.3,"p":138.562},{"i":172.1,"p":138.582},{"i":174.9,"p":138.605},{"i":177.7,"p":138.633},{"i":180.1,"p":138.675},
      {"i":182.5,"p":138.709},{"i":185.7,"p":138.737},{"i":188.1,"p":138.773},{"i":191,"p":138.807},{"i":193.2,"p":138.844},
      {"i":196.6,"p":138.886},{"i":200.3,"p":138.934},{"i":203.1,"p":138.962},{"i":206.8,"p":139.007},{"i":212.1,"p":139.083},
      {"i":215.3,"p":139.131},{"i":218.1,"p":139.176},{"i":220.9,"p":139.238},{"i":229.8,"p":139.421},{"i":233.1,"p":139.486},
      {"i":236.8,"p":139.562},{"i":240.6,"p":139.610},{"i":243.8,"p":139.638},{"i":247.2,"p":139.652},{"i":250.9,"p":139.674},
      {"i":253.7,"p":139.694},{"i":257.1,"p":139.711},{"i":259.3,"p":139.731},{"i":263.1,"p":139.767},{"i":266.9,"p":139.807},
      {"i":270.6,"p":139.849},{"i":274.4,"p":139.891},{"i":277.2,"p":139.950},{"i":281.3,"p":140.021},{"i":286,"p":140.077},
      {"i":289.4,"p":140.125},{"i":293.3,"p":140.156},{"i":296.7,"p":140.175},{"i":300.7,"p":140.184},{"i":304.5,"p":140.198},
      {"i":308.4,"p":140.209},{"i":311.2,"p":140.223},{"i":314.2,"p":140.243},{"i":318.1,"p":140.277},{"i":321.9,"p":140.310},
      {"i":324.9,"p":140.350},{"i":327.3,"p":140.372},{"i":329.6,"p":140.398},{"i":332.6,"p":140.412},{"i":336,"p":140.409},
      {"i":339.3,"p":140.406},{"i":344,"p":140.403}
    ],
    "maSlow": [
      {"i":42.6,"p":137.326},{"i":56.3,"p":137.450},{"i":62,"p":137.487},{"i":69,"p":137.577},{"i":76.8,"p":137.709},
      {"i":90.5,"p":137.892},{"i":107.4,"p":138.019},{"i":115,"p":138.078},{"i":123.4,"p":138.146},{"i":131.9,"p":138.196},
      {"i":136.5,"p":138.216},{"i":153.4,"p":138.295},{"i":161.8,"p":138.337},{"i":171.3,"p":138.388},{"i":180.1,"p":138.422},
      {"i":190,"p":138.455},{"i":199.4,"p":138.512},{"i":206.8,"p":138.554},{"i":212.3,"p":138.604},{"i":228.4,"p":138.720},
      {"i":246.8,"p":138.925},{"i":262.8,"p":139.111},{"i":278.9,"p":139.294},{"i":295,"p":139.455},{"i":311.1,"p":139.593},
      {"i":327.1,"p":139.716},{"i":343.9,"p":139.854}
    ],
    "channel": [
      {"line":"upper","i":-0.18,"p":138.013},{"line":"upper","i":346.9,"p":141.675},
      {"line":"lower","i":40,"p":137.008},{"line":"lower","i":346.9,"p":140.246}
    ]
  },
  "layer": [
    {
      "data": {"name": "candles"},
      "mark": {"type": "rule", "strokeWidth": 1.6},
      "encoding": {
        "x": {
          "field": "i", "type": "quantitative", "title": null,
          "scale": {"domain": [-0.18, 346.9], "nice": false, "zero": false},
          "axis": {
            "orient": "bottom", "title": null, "grid": false,
            "values": [0,16,32,48,64,80,96,112,128,144,160,176,192,208,224,240,256,272,288,304,320,336],
            "labelExpr": "['19 May 2023','19 May 14:00','19 May 22:00','22 May 06:00','22 May 14:00','22 May 22:00','23 May 06:00','23 May 14:00','23 May 22:00','24 May 06:00','24 May 14:00','24 May 22:00','25 May 06:00','25 May 14:00','25 May 22:00','26 May 06:00','26 May 14:00','26 May 22:00','29 May 06:00','29 May 14:00','29 May 22:00','30 May 06:00'][round(datum.value / 16)]",
            "labelAlign": "left", "labelBaseline": "top", "labelOffset": -1, "labelPadding": 3,
            "labelOverlap": false, "labelFlush": false, "labelBound": false,
            "tickSize": 7, "tickWidth": 1.5, "tickColor": "#000000",
            "domainColor": "#000000", "domainWidth": 2
          }
        },
        "y": {
          "field": "l", "type": "quantitative", "title": null,
          "scale": {"domain": [137.326, 141.11], "nice": false, "zero": false},
          "axis": {
            "orient": "right", "title": null, "grid": false,
            "values": [137.345,137.51,137.675,137.84,138.005,138.17,138.335,138.5,138.665,138.83,138.995,139.16,139.325,139.49,139.655,139.82,139.985,140.15,140.315,140.48,140.645,140.81,140.975],
            "format": ".3f",
            "labelAlign": "left", "labelPadding": 6, "labelOverlap": false, "labelFlush": false,
            "tickSize": 4, "tickWidth": 1.5, "tickColor": "#000000",
            "domainColor": "#000000", "domainWidth": 2
          }
        },
        "y2": {"field": "h"},
        "color": {
          "condition": [
            {"test": "datum.c > datum.o", "value": "#EE3B2A"},
            {"test": "datum.c < datum.o", "value": "#0000FF"}
          ],
          "value": "#8A97A6"
        }
      }
    },
    {
      "data": {"values": [{"i":36},{"i":84},{"i":132},{"i":180},{"i":228},{"i":276},{"i":324}]},
      "mark": {"type": "rule", "color": "#000000", "strokeWidth": 1.6, "strokeDash": [6, 4]},
      "encoding": {
        "x": {"field": "i", "type": "quantitative", "title": null, "scale": {"domain": [-0.18, 346.9], "nice": false, "zero": false}}
      }
    },
    {
      "data": {"values": [{"p":140.207}]},
      "mark": {"type": "rule", "color": "#8D99A6", "strokeWidth": 1.5},
      "encoding": {
        "y": {"field": "p", "type": "quantitative", "title": null, "scale": {"domain": [137.326, 141.11], "nice": false, "zero": false}}
      }
    },
    {
      "data": {"name": "candles"},
      "mark": {"type": "bar", "size": 5},
      "encoding": {
        "x": {"field": "i", "type": "quantitative", "title": null, "scale": {"domain": [-0.18, 346.9], "nice": false, "zero": false}},
        "y": {"field": "o", "type": "quantitative", "title": null, "scale": {"domain": [137.326, 141.11], "nice": false, "zero": false}},
        "y2": {"field": "c"},
        "color": {
          "condition": [
            {"test": "datum.c > datum.o", "value": "#EE3B2A"},
            {"test": "datum.c < datum.o", "value": "#0000FF"}
          ],
          "value": "#8A97A6"
        }
      }
    },
    {
      "data": {"name": "candles"},
      "transform": [{"filter": "datum.o == datum.c"}],
      "mark": {"type": "point", "shape": "M-1,0L1,0", "size": 49, "filled": false, "strokeWidth": 1.6, "opacity": 1, "color": "#8A97A6"},
      "encoding": {
        "x": {"field": "i", "type": "quantitative", "title": null, "scale": {"domain": [-0.18, 346.9], "nice": false, "zero": false}},
        "y": {"field": "o", "type": "quantitative", "title": null, "scale": {"domain": [137.326, 141.11], "nice": false, "zero": false}}
      }
    },
    {
      "data": {"name": "maSlow"},
      "mark": {"type": "line", "color": "#000000", "strokeWidth": 1.3, "clip": true},
      "encoding": {
        "x": {"field": "i", "type": "quantitative", "title": null, "scale": {"domain": [-0.18, 346.9], "nice": false, "zero": false}},
        "y": {"field": "p", "type": "quantitative", "title": null, "scale": {"domain": [137.326, 141.11], "nice": false, "zero": false}}
      }
    },
    {
      "data": {"name": "maMid"},
      "mark": {"type": "line", "color": "#1414FF", "strokeWidth": 1.3},
      "encoding": {
        "x": {"field": "i", "type": "quantitative", "title": null, "scale": {"domain": [-0.18, 346.9], "nice": false, "zero": false}},
        "y": {"field": "p", "type": "quantitative", "title": null, "scale": {"domain": [137.326, 141.11], "nice": false, "zero": false}}
      }
    },
    {
      "data": {"name": "maFast"},
      "mark": {"type": "line", "color": "#FF2A1A", "strokeWidth": 1.3},
      "encoding": {
        "x": {"field": "i", "type": "quantitative", "title": null, "scale": {"domain": [-0.18, 346.9], "nice": false, "zero": false}},
        "y": {"field": "p", "type": "quantitative", "title": null, "scale": {"domain": [137.326, 141.11], "nice": false, "zero": false}}
      }
    },
    {
      "data": {"name": "channel"},
      "mark": {"type": "line", "color": "#0000FF", "strokeWidth": 8, "clip": true, "strokeCap": "butt"},
      "encoding": {
        "x": {"field": "i", "type": "quantitative", "title": null, "scale": {"domain": [-0.18, 346.9], "nice": false, "zero": false}},
        "y": {"field": "p", "type": "quantitative", "title": null, "scale": {"domain": [137.326, 141.11], "nice": false, "zero": false}},
        "detail": {"field": "line"}
      }
    },
    {
      "data": {"values": [{"i":164,"p":138.316}]},
      "mark": {"type": "point", "shape": "square", "size": 110, "filled": true, "opacity": 1, "color": "#0000FF"},
      "encoding": {
        "x": {"field": "i", "type": "quantitative", "title": null, "scale": {"domain": [-0.18, 346.9], "nice": false, "zero": false}},
        "y": {"field": "p", "type": "quantitative", "title": null, "scale": {"domain": [137.326, 141.11], "nice": false, "zero": false}}
      }
    },
    {
      "data": {"values": [{"p":140.921}]},
      "mark": {"type": "rule", "color": "#63C94B", "strokeWidth": 4.5},
      "encoding": {
        "y": {"field": "p", "type": "quantitative", "title": null, "scale": {"domain": [137.326, 141.11], "nice": false, "zero": false}}
      }
    },
    {
      "data": {"values": [{"i":-0.18}]},
      "mark": {"type": "rule", "color": "#333333", "strokeWidth": 2},
      "encoding": {
        "x": {"field": "i", "type": "quantitative", "title": null, "scale": {"domain": [-0.18, 346.9], "nice": false, "zero": false}}
      }
    },
    {
      "data": {"values": [{"p":140.921,"label":"140.921"}]},
      "layer": [
        {
          "mark": {"type": "rect", "color": "#63C94B"},
          "encoding": {
            "x": {"datum": 347.4, "type": "quantitative", "title": null, "scale": {"domain": [-0.18, 346.9], "nice": false, "zero": false}},
            "x2": {"datum": 357.2},
            "y": {"datum": 140.952, "type": "quantitative", "title": null, "scale": {"domain": [137.326, 141.11], "nice": false, "zero": false}},
            "y2": {"datum": 140.895}
          }
        },
        {
          "mark": {"type": "text", "align": "left", "baseline": "middle", "font": "DejaVu Sans", "fontSize": 14, "color": "#FFFFFF"},
          "encoding": {
            "x": {"datum": 348.1, "type": "quantitative", "title": null, "scale": {"domain": [-0.18, 346.9], "nice": false, "zero": false}},
            "y": {"field": "p", "type": "quantitative", "title": null, "scale": {"domain": [137.326, 141.11], "nice": false, "zero": false}},
            "text": {"field": "label"}
          }
        }
      ]
    },
    {
      "data": {"values": [{"p":140.207,"label":"140.207"}]},
      "layer": [
        {
          "mark": {"type": "rect", "color": "#000000"},
          "encoding": {
            "x": {"datum": 347.4, "type": "quantitative", "title": null, "scale": {"domain": [-0.18, 346.9], "nice": false, "zero": false}},
            "x2": {"datum": 357.2},
            "y": {"datum": 140.234, "type": "quantitative", "title": null, "scale": {"domain": [137.326, 141.11], "nice": false, "zero": false}},
            "y2": {"datum": 140.179}
          }
        },
        {
          "mark": {"type": "text", "align": "left", "baseline": "middle", "font": "DejaVu Sans", "fontSize": 14, "color": "#FFFFFF"},
          "encoding": {
            "x": {"datum": 348.1, "type": "quantitative", "title": null, "scale": {"domain": [-0.18, 346.9], "nice": false, "zero": false}},
            "y": {"field": "p", "type": "quantitative", "title": null, "scale": {"domain": [137.326, 141.11], "nice": false, "zero": false}},
            "text": {"field": "label"}
          }
        }
      ]
    },
    {
      "data": {"values": [{"i":309.8,"p":140.213}]},
      "mark": {"type": "point", "shape": "circle", "size": 10200, "filled": false, "strokeWidth": 13.5, "opacity": 1, "color": "#2050E8"},
      "encoding": {
        "x": {"field": "i", "type": "quantitative", "title": null, "scale": {"domain": [-0.18, 346.9], "nice": false, "zero": false}},
        "y": {"field": "p", "type": "quantitative", "title": null, "scale": {"domain": [137.326, 141.11], "nice": false, "zero": false}}
      }
    },
    {
      "data": {"values": [{"i":342.7,"p":140.883}]},
      "mark": {"type": "point", "shape": "circle", "size": 9800, "filled": false, "strokeWidth": 13, "opacity": 1, "color": "#EE4023"},
      "encoding": {
        "x": {"field": "i", "type": "quantitative", "title": null, "scale": {"domain": [-0.18, 346.9], "nice": false, "zero": false}},
        "y": {"field": "p", "type": "quantitative", "title": null, "scale": {"domain": [137.326, 141.11], "nice": false, "zero": false}}
      }
    }
  ]
}
